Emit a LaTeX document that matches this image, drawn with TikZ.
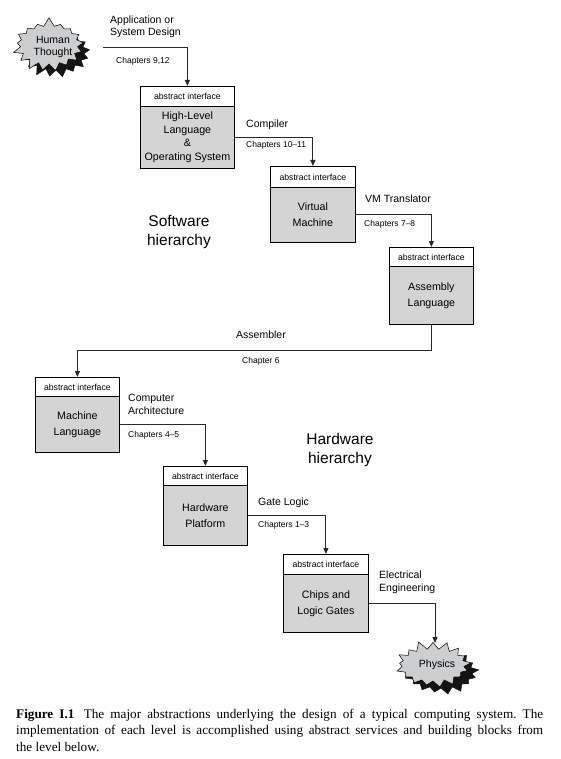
\documentclass[tikz,border=0pt]{standalone}
\usepackage{fontspec}
\setmainfont{Liberation Sans}
\newfontfamily\capfont{Liberation Serif}
\usetikzlibrary{arrows.meta,shapes.symbols,calc}
\definecolor{boxgray}{RGB}{212,212,213}
\definecolor{burstgray}{RGB}{205,206,208}
\definecolor{linegray}{RGB}{40,40,40}
\definecolor{shadowgray}{RGB}{20,20,20}
\begin{document}
\begin{tikzpicture}[x=1pt,y=-1pt,
  hdr/.style={draw=black, fill=white, line width=0.8pt, minimum width=85pt, minimum height=20pt,
    inner sep=0pt, anchor=north west, font=\fontsize{8.7}{10}\selectfont},
  bodyb/.style={draw=black, fill=boxgray, line width=0.8pt, minimum width=85pt, inner sep=0pt,
    anchor=north west, align=center, font=\fontsize{10.7}{16}\selectfont},
  arr/.style={draw=linegray, line width=0.9pt, -{Triangle[length=6pt,width=5pt]}},
  lbl/.style={anchor=base west, inner sep=0pt, align=left, font=\fontsize{10.5}{12.5}\selectfont},
  chap/.style={anchor=base west, inner sep=0pt, font=\fontsize{8.5}{10}\selectfont},
  hier/.style={anchor=base, inner sep=0pt, align=center, font=\fontsize{15.5}{19}\selectfont},
  burst/.style={starburst, starburst points=17, starburst point height=9pt, inner sep=1pt,
    minimum width=#1, align=center, font=\fontsize{10.5}{12.5}\selectfont},
  burstshadow/.style={burst=#1, fill=shadowgray, draw=shadowgray, line width=0.5pt},
  burstfront/.style={burst=#1, fill=burstgray, draw=black, line width=0.5pt},
  bursttext/.style={inner sep=0pt, align=center, font=\fontsize{10.5}{12.5}\selectfont}
]
\useasboundingbox (0,0) rectangle (561,759);
\fill[white] (0,0) rectangle (561,759);

% Human Thought
\node[burstshadow=74pt, minimum height=54pt, random starburst=7] (htsh) at (56,52) {};
\node[burstfront=74pt, minimum height=56pt, random starburst=7] (ht) at (49,45) {\phantom{Thought}\\\phantom{Thought}};
\node[bursttext] (httext) at (53,47) {Human\\Thought};
\coordinate (htout) at (103,47);

% Boxes
\node[hdr, minimum width=94pt] (hlh) at (140,86) {abstract interface};
\node[bodyb, minimum width=94pt, minimum height=62pt, font=\fontsize{10.7}{13.5}\selectfont] (hlb) at (140,106) {High-Level\\Language\\\&\\Operating System};

\node[hdr, minimum height=21pt] (vmh) at (270,166) {abstract interface};
\node[bodyb, minimum height=55pt] (vmb) at (270,187) {Virtual\\Machine};

\node[hdr, minimum width=84pt, minimum height=19pt] (ash) at (389,247) {abstract interface};
\node[bodyb, minimum width=84pt, minimum height=58pt] (asb) at (389,266) {Assembly\\Language};

\node[hdr, minimum width=84pt, minimum height=19pt] (mlh) at (35,377) {abstract interface};
\node[bodyb, minimum width=84pt, minimum height=56pt] (mlb) at (35,396) {Machine\\Language};

\node[hdr, minimum width=84pt, minimum height=19pt] (hph) at (163,466) {abstract interface};
\node[bodyb, minimum width=84pt, minimum height=60pt] (hpb) at (163,485) {Hardware\\Platform};

\node[hdr] (cgh) at (283,554) {abstract interface};
\node[bodyb, minimum height=58pt] (cgb) at (283,574) {Chips and\\Logic Gates};

% Physics
\node[burstshadow=80pt, minimum height=50pt, random starburst=11] (physh) at (441,672) {};
\node[burstfront=80pt, minimum height=50pt, random starburst=11] (phys) at (433,665) {\phantom{Physics}};
\node[bursttext] (phtext) at (437,665) {Physics};
\coordinate (physin) at (435,643);

% Connectors
\draw[arr] (htout) -| (hlh.north);
\draw[arr] (hlb.east) -| (vmh.north);
\draw[arr] (vmb.east) -| (ash.north);
\coordinate (asmturn) at (431,350);
\draw[arr] (asb.south) -- (asb.south |- asmturn) -| (mlh.north);
\draw[arr] (mlb.east) -| (hph.north);
\draw[arr] (hpb.east) -| (cgh.north);
\draw[arr] (cgb.east) -| (physin);

% Labels
\node[lbl] (l1) at (110,36) {Application or\\System Design};
\node[chap] (c1) at (116,64) {Chapters 9,12};
\node[lbl] (l2) at (246,128) {Compiler};
\node[chap] (c2) at (246,148) {Chapters 10\textendash11};
\node[lbl] (l3) at (365,203) {VM Translator};
\node[chap] (c3) at (364,226) {Chapters 7\textendash8};
\node[lbl] (l4) at (236,338) {Assembler};
\node[chap] (c4) at (242,363) {Chapter 6};
\node[lbl] (l5) at (128,414) {Computer\\Architecture};
\node[chap] (c5) at (128,437) {Chapters 4\textendash5};
\node[lbl] (l6) at (258,505) {Gate Logic};
\node[chap] (c6) at (258,527) {Chapters 1\textendash3};
\node[lbl] (l7) at (379,591) {Electrical\\Engineering};

\node[hier] (sw) at (179,245) {Software\\hierarchy};
\node[hier] (hw) at (340,463) {Hardware\\hierarchy};

% Caption
\node[anchor=base west, inner sep=0pt, text width=527pt, align=justify,
  font=\capfont\fontsize{13.2}{16.5}\selectfont\frenchspacing] (cap) at (16,718)
  {\textbf{Figure I.1}\hspace{0.7em}The major abstractions underlying the design of a typical computing system. The\linebreak
   implementation of each level is accomplished using abstract services and building blocks from\linebreak
   the level below.};
\end{tikzpicture}
\end{document}
